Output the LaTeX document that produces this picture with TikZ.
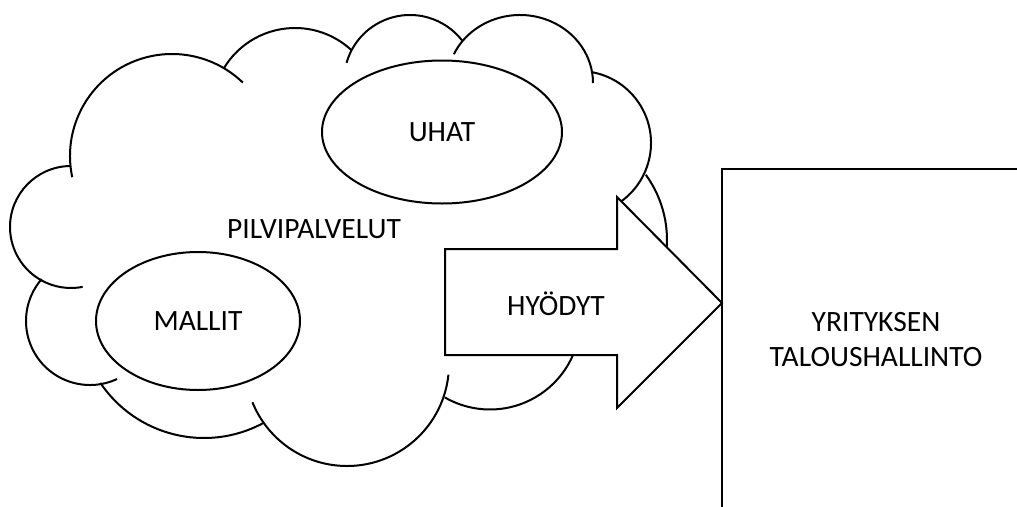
\documentclass[tikz,border=0pt]{standalone}
\usepackage{fontspec}
\setmainfont{Carlito}
\usetikzlibrary{shapes.geometric}
\tikzset{
  cloudline/.style={line width=2pt},
  oval/.style={ellipse, draw, line width=2pt, font=\fontsize{29.5}{35}\selectfont},
  lbl/.style={font=\fontsize{29.5}{35}\selectfont, inner sep=0pt},
}
\begin{document}
\begin{tikzpicture}[x=1pt, y=-1pt]
  \useasboundingbox (0,0) rectangle (1017,506);
  \clip (0,0) rectangle (1017,506);
  % cloud bumps
  \draw[cloudline] (71,227) ++(269:61) arc[start angle=269, end angle=79, radius=61];
  \draw[cloudline] (172,156) ++(168:102) arc[start angle=168, end angle=314, radius=102];
  \draw[cloudline] (295,111) ++(211:83) arc[start angle=211, end angle=313, radius=83];
  \draw[cloudline] (410,81) ++(196:66) arc[start angle=196, end angle=322, radius=66];
  \draw[cloudline] (520,83) ++(205:73 and 68) arc[start angle=205, end angle=360, x radius=73, y radius=68];
  \draw[cloudline] (579,143) ++(281:72) arc[start angle=281, end angle=416, radius=72];
  \draw[cloudline] (556,240) ++(324:111) arc[start angle=324, end angle=370, radius=111];
  \draw[cloudline] (490,319) ++(15:90.5) arc[start angle=15, end angle=120, radius=90.5];
  \draw[cloudline] (347,364) ++(6:102) arc[start angle=6, end angle=158, radius=102];
  \draw[cloudline] (204,313) ++(62:125) arc[start angle=62, end angle=146, radius=125];
  \draw[cloudline] (90,321) ++(65:64) arc[start angle=65, end angle=221, radius=64];
  % inside the cloud
  \node[oval, minimum width=240, minimum height=143] (uhat) at (442,132) {UHAT};
  \node[oval, minimum width=204, minimum height=138] (mallit) at (198,321) {MALLIT};
  \node[lbl] (pilvi) at (314,229) {PILVIPALVELUT};
  % arrow
  \draw[line width=2pt, fill=white, line join=miter] (445,249) -- (617,249) -- (617,197)
    -- (722,303) -- (617,408) -- (617,355) -- (445,355) -- cycle;
  \node[lbl] (hyodyt) at (556,304) {HYÖDYT};
  % box
  \node[draw, line width=2pt, minimum width=308, minimum height=342, align=center,
    font=\fontsize{29.5}{35}\selectfont] (tal) at (876,340) {YRITYKSEN\\TALOUSHALLINTO};
\end{tikzpicture}
\end{document}
